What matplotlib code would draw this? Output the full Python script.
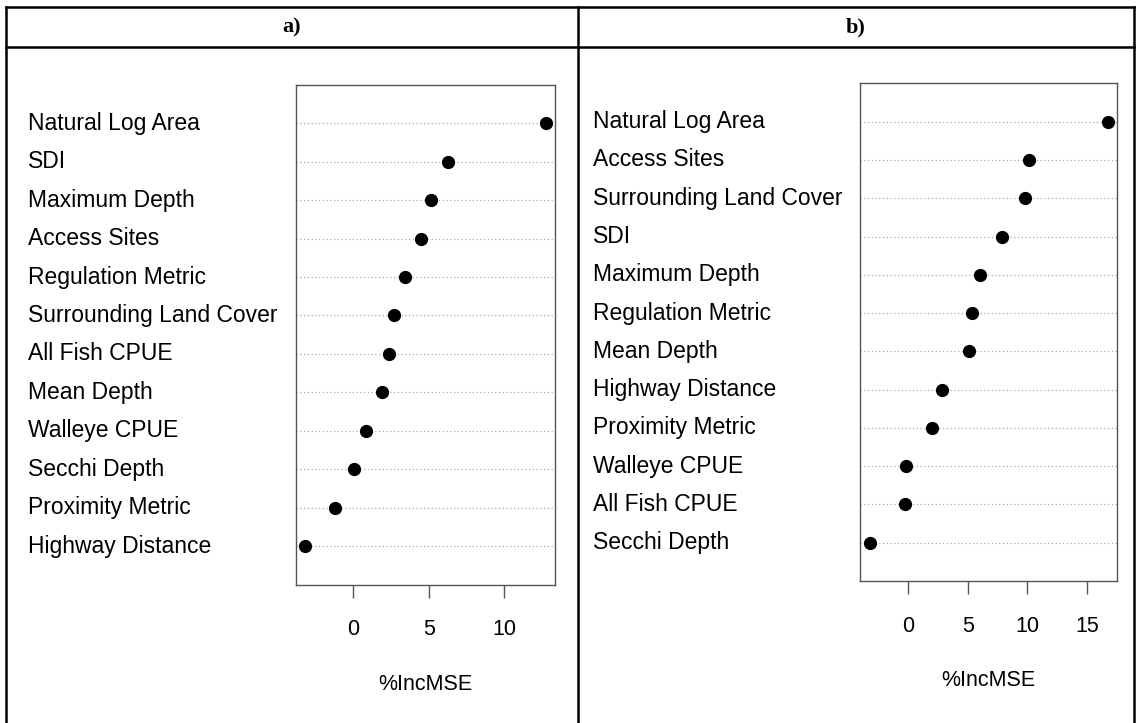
import matplotlib
matplotlib.use("Agg")
import matplotlib.pyplot as plt
from matplotlib.lines import Line2D
from matplotlib.transforms import blended_transform_factory
import numpy as np

# variable importance (%IncMSE), listed top to bottom as plotted
labels_a = ["Natural Log Area", "SDI", "Maximum Depth", "Access Sites",
            "Regulation Metric", "Surrounding Land Cover", "All Fish CPUE",
            "Mean Depth", "Walleye CPUE", "Secchi Depth", "Proximity Metric",
            "Highway Distance"]
imp_a = [12.75, 6.30, 5.18, 4.52, 3.44, 2.71, 2.38, 1.89, 0.86, 0.04, -1.23, -3.17]
ticks_a = [0, 5, 10]

labels_b = ["Natural Log Area", "Access Sites", "Surrounding Land Cover", "SDI",
            "Maximum Depth", "Regulation Metric", "Mean Depth", "Highway Distance",
            "Proximity Metric", "Walleye CPUE", "All Fish CPUE", "Secchi Depth"]
imp_b = [16.72, 10.11, 9.81, 7.85, 6.02, 5.33, 5.06, 2.87, 1.99, -0.22, -0.30, -3.23]
ticks_b = [0, 5, 10, 15]

panel_titles = ["a)", "b)"]

W, H = 1136, 723
fig = plt.figure(figsize=(W / 100, H / 100), dpi=100)
fig.patch.set_facecolor("white")

# page layer for the table frame, in pixel units
page = fig.add_axes([0, 0, 1, 1], zorder=0)
page.set_xlim(0, W)
page.set_ylim(H, 0)
page.axis("off")
tbl = dict(color="black", lw=1.8, solid_capstyle="projecting")
page.add_line(Line2D([6.3, 1134], [7.3, 7.3], **tbl))
page.add_line(Line2D([6.3, 1134], [46.7, 46.7], **tbl))
for x in [6.3, 577.7, 1134]:
    page.add_line(Line2D([x, x], [7.3, H + 2], **tbl))
for cx, t in zip([292, 856], panel_titles):
    page.text(cx, 27, t, ha="center", va="center", fontsize=16,
              fontweight="bold", family="Liberation Serif")


def px_axes(left, right, top, bottom):
    return fig.add_axes([left / W, 1 - bottom / H, (right - left) / W, (bottom - top) / H],
                        zorder=1)


def dotchart(ax, labels, vals, ticks, label_x):
    n = len(vals)
    ypos = np.arange(n, 0, -1)
    lo, hi = min(vals), max(vals)
    pad = 0.04 * (hi - lo)
    ax.set_xlim(lo - pad, hi + pad)
    ax.set_ylim(0, n + 1)
    for y in ypos:
        ax.axhline(y, color="#a8a8a8", lw=0.9, ls=(0, (1, 2)), zorder=1)
    ax.plot(vals, ypos, "o", color="black", ms=8.5, zorder=3)
    for s in ax.spines.values():
        s.set_color("#555555")
        s.set_linewidth(1.0)
    ax.set_yticks([])
    ax.set_xticks(ticks)
    ax.set_xticklabels([str(t) for t in ticks], fontsize=15.5, family="Liberation Sans")
    ax.tick_params(axis="x", direction="out", length=9, width=1.0,
                   color="#555555", pad=16)
    ax.set_xlabel("%IncMSE", fontsize=15.5, family="Liberation Sans", labelpad=24)
    tr = blended_transform_factory(fig.transFigure, ax.transData)
    for y, lab in zip(ypos, labels):
        ax.text(label_x / W, y, lab, transform=tr, ha="left", va="center",
                fontsize=16.5, family="Liberation Sans", clip_on=False)


ax_a = px_axes(295.7, 555.3, 84.7, 584.7)
dotchart(ax_a, labels_a, imp_a, ticks_a, 28)

ax_b = px_axes(860.1, 1117.1, 83.4, 581.0)
dotchart(ax_b, labels_b, imp_b, ticks_b, 593)

fig.savefig("out.png", dpi=100, facecolor="white")
